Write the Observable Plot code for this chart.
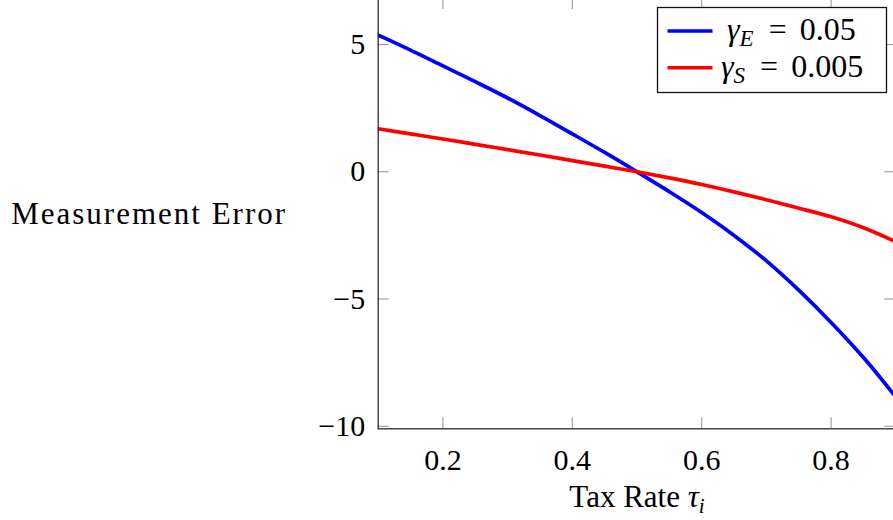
<!DOCTYPE html>
<html>
<head>
<meta charset="utf-8">
<script src="https://cdn.jsdelivr.net/npm/d3@7"></script>
<script src="https://cdn.jsdelivr.net/npm/@observablehq/plot@0.6"></script>
<style>
  html, body { margin: 0; padding: 0; background: #fff; overflow: hidden; }
  #wrap { position: relative; width: 893px; height: 520px; overflow: hidden; background: #fff; }
  #chart { position: absolute; left: 0; top: -4px; width: 910px; height: 524px; }
  #chart svg { max-width: none !important; }
</style>
</head>
<body>
<div id="wrap"><div id="chart"></div></div>
<script>
// ---- data ----
const taxRate = [0.1, 0.15, 0.2, 0.25, 0.3, 0.35, 0.4, 0.45, 0.5, 0.55, 0.6, 0.65, 0.7, 0.75, 0.8, 0.85, 0.9];
const errorGammaE = [5.37, 4.78, 4.16, 3.54, 2.90, 2.21, 1.49, 0.76, 0, -0.78, -1.6, -2.5, -3.5, -4.65, -5.92, -7.3, -8.85];
const errorGammaS = [1.69, 1.49, 1.29, 1.08, 0.87, 0.66, 0.44, 0.22, 0, -0.24, -0.5, -0.79, -1.1, -1.43, -1.77, -2.2, -2.75];
const seriesNames = ["γE = 0.05", "γS = 0.005"];
const seriesColors = ["#0000ff", "#ff0000"];
const legendSym = [["γ", "E", "0.05"], ["γ", "S", "0.005"]];
const xTicks = [0.2, 0.4, 0.6, 0.8];
const yTicks = [5, 0, -5, -10];
const xDomain = [0.1, 0.9];
const yDomain = [-10.1, 6.81];
const xLabel = "Tax Rate ";
const xLabelSym = ["τ", "i"];
const yLabel = "Measurement Error";

// ---- table built from the arrays ----
const rows = [];
[errorGammaE, errorGammaS].forEach((vals, s) => {
  taxRate.forEach((t, i) => rows.push({series: seriesNames[s], tau: t, err: vals[i]}));
});

const W = 910, H = 524;
const mL = 377.7, mR = 14.7, mT = 2, mB = 91.7;
const plotW = W - mL - mR, plotH = H - mT - mB;
const tickLen = 11;
const font = "'Liberation Serif', 'DejaVu Serif', serif";

const chart = Plot.plot({
  width: W, height: H,
  marginLeft: mL, marginRight: mR, marginTop: mT, marginBottom: mB,
  x: {domain: xDomain},
  y: {domain: yDomain},
  color: {domain: seriesNames, range: seriesColors},
  style: {fontFamily: font, fontSize: "30px", background: "white", color: "#000", maxWidth: "none", overflow: "visible"},
  marks: [
    Plot.ruleX(xTicks, {stroke: "#9a9a9a", strokeWidth: 1.1, insetTop: plotH - tickLen}),
    Plot.ruleX(xTicks, {stroke: "#9a9a9a", strokeWidth: 1.1, insetBottom: plotH - tickLen}),
    Plot.ruleY(yTicks, {stroke: "#9a9a9a", strokeWidth: 1.1, insetRight: plotW - tickLen}),
    Plot.ruleY(yTicks, {stroke: "#9a9a9a", strokeWidth: 1.1, insetLeft: plotW - tickLen}),
    Plot.line(rows, {x: "tau", y: "err", z: "series", stroke: "series", strokeWidth: 3.7, curve: "monotone-x", clip: true}),
    Plot.frame({stroke: "#2a2a2a", strokeWidth: 1.3}),
    Plot.axisX({ticks: xTicks, tickSize: 0, tickPadding: 20, tickFormat: d => d.toFixed(1), label: null, fontSize: 30}),
    Plot.axisY({ticks: yTicks, tickSize: 0, tickPadding: 13, label: null, fontSize: 30}),
    Plot.text([yLabel], {frameAnchor: "left", dx: -367, textAnchor: "start", fontSize: 31}),
    Plot.text([xLabel], {frameAnchor: "bottom", dy: 78.5, textAnchor: "middle", fontSize: 31})
  ]
});
document.getElementById("chart").appendChild(chart);
chart.style.maxWidth = "none";
chart.setAttribute("width", W);
chart.setAttribute("height", H);

// letter spacing for the y label, subscript for the x label
d3.select(chart).selectAll("text").each(function () {
  const t = d3.select(this);
  if (t.text() === yLabel) t.style("letter-spacing", "2px");
  if (t.text() === xLabel) {
    t.append("tspan").attr("font-style", "italic").text(xLabelSym[0]);
    t.append("tspan").attr("font-style", "italic").attr("font-size", 21).attr("dy", 6).text(xLabelSym[1]);
  }
});

// legend (inside the plot, top right, as in the reference), drawn into the chart's SVG
const oy = 4; // the SVG is shifted up by 4px
const lg = d3.select(chart).append("g").attr("font-family", font).attr("text-anchor", "start");
lg.append("rect").attr("x", 657.5).attr("y", 7.5 + oy).attr("width", 229).attr("height", 85)
  .attr("fill", "#fff").attr("stroke", "#111").attr("stroke-width", 1.3);
const rowY = [31 + oy, 67.7 + oy];
const textX = [727, 721];
legendSym.forEach((s, i) => {
  lg.append("line").attr("x1", 667.5).attr("x2", 712.5).attr("y1", rowY[i]).attr("y2", rowY[i])
    .attr("stroke", seriesColors[i]).attr("stroke-width", 3.4);
  const t = lg.append("text").attr("x", textX[i]).attr("y", rowY[i] + 9)
    .attr("text-anchor", "start").attr("font-size", 32).attr("fill", "#000");
  t.append("tspan").attr("font-style", "italic").text(s[0]);
  t.append("tspan").attr("font-style", "italic").attr("font-size", 23).attr("dy", 6).text(s[1]);
  t.append("tspan").attr("dy", -6).attr("dx", 15).text("=");
  t.append("tspan").attr("dx", 13).text(s[2]);
});
</script>
</body>
</html>
